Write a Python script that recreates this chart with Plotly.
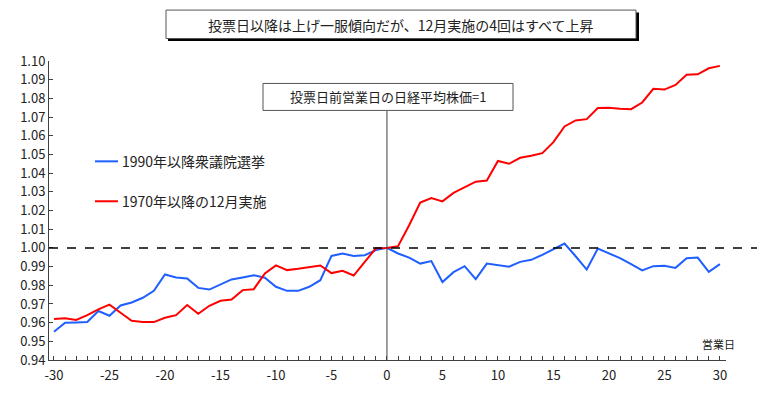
import plotly.graph_objects as go

days = list(range(-30, 31))
series_names = ["1990年以降衆議院選挙", "1970年以降の12月実施"]
blue_vals = [
    0.9551, 0.9599, 0.9601, 0.9603, 0.9662, 0.9637, 0.9692, 0.9708, 0.9733, 0.9770,
    0.9858, 0.9842, 0.9836, 0.9786, 0.9777, 0.9804, 0.9831, 0.9842, 0.9854, 0.9840,
    0.9792, 0.9770, 0.9770, 0.9792, 0.9827, 0.9957, 0.9970, 0.9957, 0.9961, 0.9988,
    1.0000,
    0.9970, 0.9948, 0.9916, 0.9929, 0.9817, 0.9870, 0.9902, 0.9833, 0.9916, 0.9909,
    0.9899, 0.9925, 0.9936, 0.9963, 0.9995, 1.0023, 0.9955, 0.9884, 0.9996, 0.9972,
    0.9945, 0.9913, 0.9879, 0.9902, 0.9904, 0.9893, 0.9945, 0.9948, 0.9872, 0.9913,
]
red_vals = [
    0.9619, 0.9624, 0.9614, 0.9640, 0.9671, 0.9696, 0.9653, 0.9610, 0.9603, 0.9603,
    0.9626, 0.9640, 0.9694, 0.9647, 0.9690, 0.9717, 0.9724, 0.9774, 0.9779, 0.9863,
    0.9906, 0.9881, 0.9888, 0.9895, 0.9906, 0.9865, 0.9877, 0.9852, 0.9923, 0.9998,
    1.0000,
    1.0009, 1.0121, 1.0242, 1.0267, 1.0249, 1.0294, 1.0326, 1.0354, 1.0360, 1.0465,
    1.0450, 1.0482, 1.0493, 1.0507, 1.0566, 1.0650, 1.0682, 1.0689, 1.0748, 1.0750,
    1.0744, 1.0742, 1.0778, 1.0851, 1.0847, 1.0872, 1.0926, 1.0929, 1.0961, 1.0974,
]
y_ticks = [round(0.94 + 0.01 * i, 2) for i in range(17)]
x_ticks = list(range(-30, 31, 5))
title_text = "投票日以降は上げ一服傾向だが、12月実施の4回はすべて上昇"
note_text = "投票日前営業日の日経平均株価=1"
x_unit = "営業日"
base_value = 1.0

FONT = "Noto Sans CJK JP"
colors = ["#1F5FFF", "#FF0000"]

W, H = 760, 397
L, R, T, B = 49, 34, 60.5, 37
pw, ph = W - L - R, H - T - B


def px(xp):
    return (xp - L) / pw


def py(yp):
    return (H - B - yp) / ph


fig = go.Figure()
for name, vals, c in zip(series_names, [blue_vals, red_vals], colors):
    fig.add_trace(go.Scatter(x=days, y=vals, mode="lines", name=name,
                             line=dict(color=c, width=2), showlegend=False))

shapes = []
shapes.append(dict(type="line", xref="paper", yref="y", x0=0, x1=px(757),
                   y0=base_value, y1=base_value, line=dict(color="black", width=1.5, dash="dash")))
shapes.append(dict(type="line", xref="x", yref="paper", x0=0, x1=0,
                   y0=0, y1=py(110), line=dict(color="#404040", width=1)))
shapes.append(dict(type="rect", xref="paper", yref="paper", x0=px(168), x1=px(639),
                   y0=py(40.5), y1=py(12), fillcolor="black", line=dict(width=0), layer="above"))
shapes.append(dict(type="rect", xref="paper", yref="paper", x0=px(166), x1=px(636),
                   y0=py(38), y1=py(9.5), fillcolor="white", line=dict(color="#555555", width=1), layer="above"))
shapes.append(dict(type="rect", xref="paper", yref="paper", x0=px(263), x1=px(513),
                   y0=py(110), y1=py(83), fillcolor="white", line=dict(color="#555555", width=1), layer="above"))
for i, c in enumerate(colors):
    yy = 161 + 40 * i
    shapes.append(dict(type="line", xref="paper", yref="paper", x0=px(95), x1=px(118),
                       y0=py(yy), y1=py(yy), line=dict(color=c, width=2)))

annotations = [
    dict(xref="paper", yref="paper", x=px(401), y=py(24), text=title_text, showarrow=False,
         font=dict(family=FONT, size=14, color="#222222"), xanchor="center", yanchor="middle"),
    dict(xref="paper", yref="paper", x=px(388), y=py(96.5), text=note_text, showarrow=False,
         font=dict(family=FONT, size=13, color="#222222"), xanchor="center", yanchor="middle"),
    dict(xref="paper", yref="paper", x=px(737), y=py(344), text=x_unit, showarrow=False,
         font=dict(family=FONT, size=11, color="#222222"), xanchor="right", yanchor="middle"),
]
for i, name in enumerate(series_names):
    annotations.append(dict(xref="paper", yref="paper", x=px(120), y=py(161 + 40 * i), text=name,
                            showarrow=False, xanchor="left", yanchor="middle",
                            font=dict(family=FONT, size=14, color="#222222")))

fig.update_layout(
    width=W, height=H,
    margin=dict(l=L, r=R, t=T, b=B),
    paper_bgcolor="white", plot_bgcolor="white",
    showlegend=False,
    shapes=shapes, annotations=annotations,
    font=dict(family=FONT, size=13, color="#222222"),
    xaxis=dict(range=[-30.45, 30.55], tickmode="array", tickvals=x_ticks,
               ticktext=[str(v) for v in x_ticks], automargin=False, ticklabelstandoff=3,
               showgrid=False, zeroline=False, showline=True, linecolor="#404040", linewidth=1,
               ticks="", tickfont=dict(size=13, color="#222222"),
               minor=dict(tickmode="linear", tick0=-30, dtick=1, ticks="inside", ticklen=4,
                          tickcolor="#404040", showgrid=False)),
    yaxis=dict(range=[0.94, 1.10], tickmode="array", tickvals=y_ticks,
               ticktext=[f"{v:.2f}" for v in y_ticks], automargin=False,
               showgrid=False, zeroline=False, showline=True, linecolor="#404040", linewidth=1,
               ticks="inside", ticklen=4, tickcolor="#404040",
               tickfont=dict(size=13, color="#222222")),
)

fig.write_html("out.html", config={"displayModeBar": False},
               post_script="document.body.style.margin='0';document.body.style.padding='0';")
